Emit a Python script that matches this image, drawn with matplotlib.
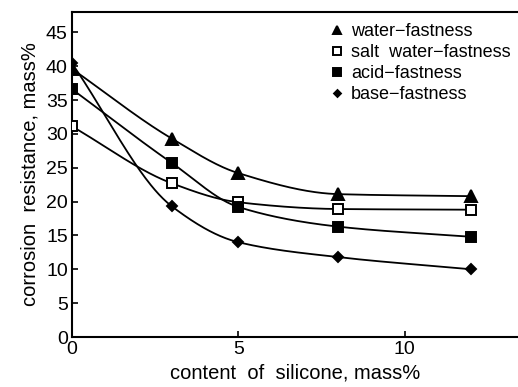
import numpy as np
import matplotlib
matplotlib.use("Agg")
from matplotlib import pyplot as plt

plt.rcParams['font.family'] = ['Liberation Sans', 'DejaVu Sans']

# silicone content, mass%
silicone = [0, 3, 5, 8, 12]

water = [39.6, 29.3, 24.2, 21.1, 20.8]
salt_water = [31.1, 22.7, 19.9, 18.9, 18.8]
acid = [36.6, 25.7, 19.2, 16.3, 14.8]
base = [40.4, 19.3, 14.0, 11.8, 10.0]

labels = ["water\u2212fastness", "salt  water\u2212fastness", "acid\u2212fastness", "base\u2212fastness"]


def pchip(x, y, xs):
    # monotone cubic curve through the measured points (just for drawing)
    x = np.asarray(x, float)
    y = np.asarray(y, float)
    h = np.diff(x)
    d = np.diff(y) / h
    m = np.zeros_like(y)
    for k in range(1, len(x) - 1):
        if d[k - 1] * d[k] > 0:
            w1 = 2 * h[k] + h[k - 1]
            w2 = h[k] + 2 * h[k - 1]
            m[k] = (w1 + w2) / (w1 / d[k - 1] + w2 / d[k])
    m[0] = d[0]
    m[-1] = d[-1]
    i = np.clip(np.searchsorted(x, xs) - 1, 0, len(x) - 2)
    t = (xs - x[i]) / h[i]
    h00 = 2 * t**3 - 3 * t**2 + 1
    h10 = t**3 - 2 * t**2 + t
    h01 = -2 * t**3 + 3 * t**2
    h11 = t**3 - t**2
    return h00 * y[i] + h10 * h[i] * m[i] + h01 * y[i + 1] + h11 * h[i] * m[i + 1]


fig = plt.figure(figsize=(5.18, 3.87), dpi=100)
ax = fig.add_axes([72 / 518, 1 - 337 / 387, 1 - 72 / 518, (337 - 12) / 387])

xs = np.linspace(silicone[0], silicone[-1], 300)
series = [water, salt_water, acid, base]
markers = [("^", "k", 8), ("s", "w", 7.5), ("s", "k", 7.5), ("D", "k", 5)]
for vals, (mk, fc, ms), lab in zip(series, markers, labels):
    ax.plot(xs, pchip(silicone, vals, xs), color="k", lw=1.3, zorder=2)
    ax.plot(silicone, vals, ls="none", marker=mk, mfc=fc, mec="k", mew=1.4,
            ms=ms, zorder=3, label=lab)

ax.set_xlim(0, 13.4)
ax.set_ylim(0, 48)
ax.set_xticks([0, 5, 10])
ax.set_yticks(range(0, 46, 5))
ax.tick_params(direction="in", length=4, width=1.2, labelsize=14, pad=3)
ax.spines["right"].set_visible(False)
for s in ["left", "top", "bottom"]:
    ax.spines[s].set_linewidth(1.5)

ax.set_xlabel("content  of  silicone, mass%", fontsize=14.5, labelpad=4)
ax.set_ylabel("corrosion  resistance, mass%", fontsize=14.5, labelpad=5)

leg = ax.legend(loc="upper right", bbox_to_anchor=(1.02, 1.015), frameon=False,
                fontsize=13, handlelength=0.6, handletextpad=0.5,
                labelspacing=0.22, markerscale=0.7)

fig.savefig("out.png", dpi=100)
